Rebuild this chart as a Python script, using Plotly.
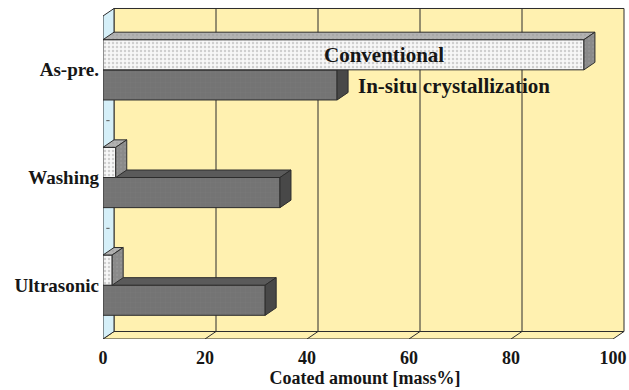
import plotly.graph_objects as go

# ---- data -------------------------------------------------------------
categories = ["Ultrasonic", "Washing", "As-pre."]
conventional = [1.8, 2.5, 94.3]      # Conventional coating, mass%
in_situ = [31.8, 34.7, 45.9]         # In-situ crystallization, mass%
x_ticks = [0, 20, 40, 60, 80, 100]
x_tick_labels = ["0", "20", "40", "60", "80", "100"]

# ---- geometry ---------------------------------------------------------
W, H = 629, 390
M = dict(l=103, r=2, t=5, b=51)
PX_X = 5.1          # pixels per mass%
PX_Y = 107.67       # pixels per category band
X_MAX = (W - M["l"] - M["r"]) / PX_X
Y_MIN = -0.5
Y_MAX = Y_MIN + (H - M["t"] - M["b"]) / PX_Y

DX = 11 / PX_X      # 3-D depth, horizontal part (data units)
DY = 7.5 / PX_Y     # 3-D depth, vertical part (data units)
BAR_H = 0.28
X_END = x_ticks[-1]
Y_LO, Y_HI = -0.5, len(categories) - 0.5

SERIF = "Liberation Serif, Times New Roman, serif"
INK = "#161616"
EDGE = "#2c2c2c"
WALL_YELLOW = "#FFF1B0"
WALL_CYAN = "#D5EFF8"

pos = list(range(len(categories)))


def faces(values, lower_offset, top_fill, side_fill, fg, xa, ya):
    """Top and right faces of horizontal 3-D bars."""
    out = []
    for p, v in zip(pos, values):
        y0 = p + lower_offset
        y1 = y0 + BAR_H
        common = dict(mode="lines", fill="toself", line=dict(color=EDGE, width=1),
                      hoverinfo="skip", showlegend=False, xaxis=xa, yaxis=ya)
        top_pat = dict(shape=".", fgcolor=fg, bgcolor=top_fill, size=4, solidity=0.25) if fg else None
        side_pat = dict(shape=".", fgcolor=fg, bgcolor=side_fill, size=4, solidity=0.25) if fg else None
        out.append(go.Scatter(
            x=[0, v, v + DX, DX, 0], y=[y1, y1, y1 + DY, y1 + DY, y1],
            fillcolor=top_fill, fillpattern=top_pat, **common))
        out.append(go.Scatter(
            x=[v, v + DX, v + DX, v, v], y=[y1, y1 + DY, y0 + DY, y0, y1],
            fillcolor=side_fill, fillpattern=side_pat, **common))
    return out


fig = go.Figure()

# In-situ crystallization (lower bar of each pair) on the base axes
fig.add_trace(go.Bar(
    y=pos, x=in_situ, base=0, orientation="h", width=BAR_H, offset=-BAR_H,
    name="In-situ crystallization", showlegend=False, hoverinfo="skip",
    marker=dict(color="#777777", line=dict(color=EDGE, width=1),
                pattern=dict(shape="+", fgcolor="#828282", bgcolor="#747474",
                             size=5, solidity=0.12)),
    xaxis="x", yaxis="y"))
for tr in faces(in_situ, -BAR_H, "#5a5a5a", "#484848", None, "x", "y"):
    fig.add_trace(tr)

# Conventional (upper bar of each pair) on an overlaid axis pair, so it sits in front
fig.add_trace(go.Bar(
    y=pos, x=conventional, base=0, orientation="h", width=BAR_H, offset=0,
    name="Conventional", showlegend=False, hoverinfo="skip",
    marker=dict(color="#f6f6f6", line=dict(color=EDGE, width=1),
                pattern=dict(shape=".", fgcolor="#a6a6a6", bgcolor="#f7f7f7",
                             size=4, solidity=0.3)),
    xaxis="x2", yaxis="y2"))
for tr in faces(conventional, 0, "#b2b2b2", "#8a8a8a", "#9c9c9c", "x2", "y2"):
    fig.add_trace(tr)

# ---- box: back wall, floor, left wall, grid ---------------------------
shapes = []
line = dict(color=EDGE, width=1)
shapes.append(dict(type="rect", xref="x", yref="y", layer="below",
                   x0=DX, x1=X_END + DX, y0=Y_LO + DY, y1=Y_HI + DY,
                   fillcolor=WALL_YELLOW, line=line))
shapes.append(dict(type="path", xref="x", yref="y", layer="below",
                   path=f"M 0 {Y_LO} L {X_END} {Y_LO} L {X_END + DX} {Y_LO + DY} "
                        f"L {DX} {Y_LO + DY} Z",
                   fillcolor=WALL_YELLOW, line=line))
shapes.append(dict(type="path", xref="x", yref="y", layer="below",
                   path=f"M 0 {Y_LO} L 0 {Y_HI} L {DX} {Y_HI + DY} "
                        f"L {DX} {Y_LO + DY} Z",
                   fillcolor=WALL_CYAN, line=line))
for t in x_ticks[1:-1]:
    shapes.append(dict(type="line", xref="x", yref="y", layer="below",
                       x0=t + DX, x1=t + DX, y0=Y_LO + DY, y1=Y_HI + DY, line=line))
for t in x_ticks[1:-1]:
    shapes.append(dict(type="line", xref="x", yref="y", layer="below",
                       x0=t, x1=t + DX, y0=Y_LO, y1=Y_LO + DY, line=line))
for b in [p + 0.5 for p in pos[:-1]]:
    shapes.append(dict(type="line", xref="x", yref="y", layer="below",
                       x0=DX * 0.3, x1=DX * 0.6, y0=b + DY * 0.4, y1=b + DY * 0.4,
                       line=dict(color="#555555", width=1)))

font_tick = dict(family=SERIF, size=18, color=INK, weight="bold")

fig.update_layout(
    width=W, height=H, margin=M, autosize=False,
    paper_bgcolor="white", plot_bgcolor="white",
    barmode="overlay", shapes=shapes,
    xaxis=dict(range=[0, X_MAX], tickvals=x_ticks, ticktext=x_tick_labels,
               showgrid=False, zeroline=False, showline=False, ticks="",
               tickfont=font_tick, ticklabelstandoff=6,
               title=dict(text="Coated amount [mass%]", standoff=2,
                          font=dict(family=SERIF, size=18, color=INK, weight="bold"))),
    yaxis=dict(range=[Y_MIN, Y_MAX], tickvals=pos, ticktext=categories,
               showgrid=False, zeroline=False, showline=False, ticks="",
               tickfont=dict(family=SERIF, size=19, color=INK, weight="bold"),
               ticklabelstandoff=3),
    xaxis2=dict(range=[0, X_MAX], overlaying="x", visible=False, anchor="y2"),
    yaxis2=dict(range=[Y_MIN, Y_MAX], overlaying="y", visible=False, anchor="x2"),
    annotations=[
        dict(text="Conventional", x=55.1, y=2 + BAR_H / 2, xref="x", yref="y",
             showarrow=False, xanchor="center", yanchor="middle",
             font=dict(family=SERIF, size=21, color=INK, weight="bold")),
        dict(text="In-situ crystallization", x=49.6, y=2 - BAR_H / 2 - 0.01,
             xref="x", yref="y", showarrow=False, xanchor="left", yanchor="middle",
             font=dict(family=SERIF, size=21, color=INK, weight="bold")),
    ],
)

fig.write_html("out.html")
